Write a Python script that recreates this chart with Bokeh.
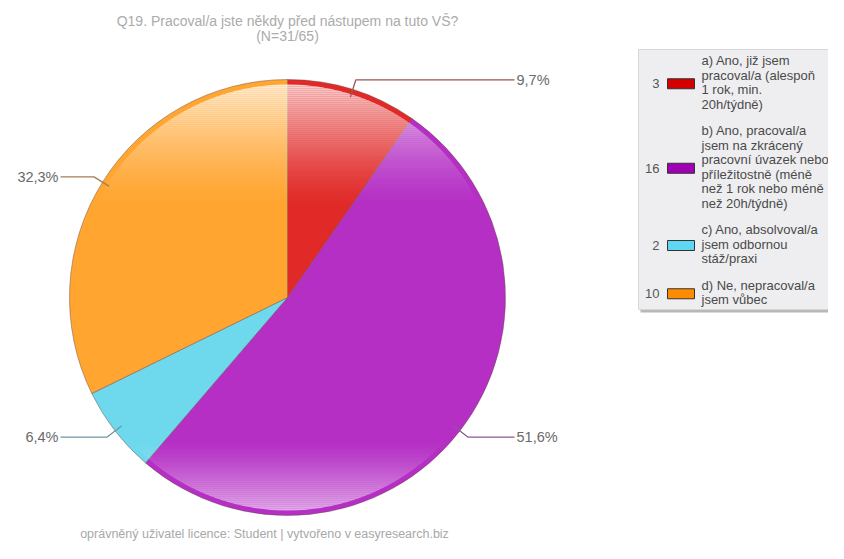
import numpy as np
from bokeh.plotting import figure
from bokeh.models import Range1d
from bokeh.core.properties import value
from bokeh.embed import file_html
from bokeh.resources import INLINE

# ---------------- data ----------------
title_lines = ["Q19. Pracoval/a jste někdy před nástupem na tuto VŠ?", "(N=31/65)"]
footer_text = "oprávněný uživatel licence: Student | vytvořeno v easyresearch.biz"
categories = [
    "a) Ano, již jsem\npracoval/a (alespoň\n1 rok, min.\n20h/týdně)",
    "b) Ano, pracoval/a\njsem na zkrácený\npracovní úvazek nebo\npříležitostně (méně\nnež 1 rok nebo méně\nnež 20h/týdně)",
    "c) Ano, absolvoval/a\njsem odbornou\nstáž/praxi",
    "d) Ne, nepracoval/a\njsem vůbec",
]
counts = [3, 16, 2, 10]
pct_labels = ["9,7%", "51,6%", "6,4%", "32,3%"]
slice_colors = ["#E12A28", "#B52FC5", "#6ED9EC", "#FFA530"]
swatch_colors = ["#D40000", "#A000B4", "#5FD7F2", "#FF8C00"]
leader_colors = ["#9A5552", "#8A5A98", "#6C98A4", "#A58050"]

FONT = value("Liberation Sans")

# ---------------- figure (1 data unit = 1 screen px) ----------------
W, H = 828, 543
def Y(py):
    return H - py

p = figure(width=W, height=H, x_range=Range1d(0, W), y_range=Range1d(0, H),
           output_backend="svg", toolbar_location=None, min_border=0,
           x_axis_location=None, y_axis_location=None)
p.grid.visible = False
p.outline_line_color = None
p.background_fill_color = "white"
p.border_fill_color = "white"

# ---------------- pie ----------------
cx, cy, R, rim = 287, Y(297), 218, 5
total = sum(counts)
cum = np.cumsum([0] + counts)
frac0 = cum[:-1] / total
frac1 = cum[1:] / total
start = np.pi / 2 - 2 * np.pi * frac0
end = np.pi / 2 - 2 * np.pi * frac1
p.wedge(x=cx, y=cy, radius=R, start_angle=start, end_angle=end, direction="clock",
        fill_color=slice_colors, line_color="#6a4a4a", line_alpha=0.45, line_width=1)

# glossy white overlay (top and bottom fade), inside the rim
Ri = R - rim
xs_list, ys_list, alphas = [], [], []
def band(y_lo, y_hi):
    ys = np.linspace(y_lo, y_hi, 8)
    half = np.sqrt(np.clip(Ri ** 2 - (ys - cy) ** 2, 0, None))
    xs = np.concatenate([cx + half, (cx - half)[::-1]])
    yy = np.concatenate([ys, ys[::-1]])
    return list(xs), list(yy)

step = 2.0
for t0 in np.arange(0, 125, step):
    t1 = t0 + step
    tm = (t0 + t1) / 2
    a = 0.78 * (1 - tm / 125) ** 1.5
    xs, ys = band(cy + Ri - t1, cy + Ri - t0)
    xs_list.append(xs); ys_list.append(ys); alphas.append(a)
for b0 in np.arange(0, 70, step):
    b1 = b0 + step
    bm = (b0 + b1) / 2
    a = 0.6 * (1 - bm / 70) ** 1.3
    xs, ys = band(cy - Ri + b0, cy - Ri + b1)
    xs_list.append(xs); ys_list.append(ys); alphas.append(a)
p.patches(xs=xs_list, ys=ys_list, fill_color="white", fill_alpha=alphas, line_alpha=0)

# ---------------- leaders & labels ----------------
mid = 2 * np.pi * (frac0 + frac1) / 2  # clockwise from top
lx, ly, tx, ty, align = [], [], [], [], []
for phi in mid:
    s, c = np.sin(phi), np.cos(phi)
    sx, sy = cx + (R - 8) * s, cy + (R - 8) * c
    ex, ey = cx + (R + 10) * s, cy + (R + 10) * c
    if s > 0:
        hx = cx + R + 9
        tx.append(hx + 2); align.append("left")
    else:
        hx = cx - R - 9
        tx.append(hx - 2); align.append("right")
    lx.append([sx, ex, hx]); ly.append([sy, ey, ey]); ty.append(ey)
p.multi_line(xs=lx, ys=ly, line_color=leader_colors, line_width=1.3)
p.text(x=tx, y=ty, text=pct_labels, text_align=align, text_baseline="middle",
       text_font=FONT, text_font_size="14.5px", text_color="#6a6a6a")

# ---------------- title & footer ----------------
p.text(x=[cx, cx], y=[Y(20), Y(35)], text=title_lines, text_align="center",
       text_baseline="middle", text_font=FONT, text_font_size="14px", text_color="#ababab")
p.text(x=[264], y=[Y(533)], text=[footer_text], text_align="center", text_baseline="middle",
       text_font=FONT, text_font_size="12.5px", text_color="#a8a8a8")

# ---------------- legend ----------------
box_l, box_t, box_r, box_b = 638, 49, 850, 309
p.quad(left=box_l + 2, right=box_r + 2, top=Y(box_t + 3), bottom=Y(box_b + 3),
       fill_color="#9a9a9a", fill_alpha=0.7, line_alpha=0)
p.quad(left=box_l, right=box_r, top=Y(box_t), bottom=Y(box_b),
       fill_color="#EEEEF0", line_color="#d6d6d6", line_width=1)

L, gap = 14.5, 12
y0 = 60.0
line_x, line_y, line_t = [], [], []
sw_top, sw_bot, num_y = [], [], []
for lab in categories:
    lines = lab.split("\n")
    for j, ln in enumerate(lines):
        line_x.append(701); line_y.append(Y(y0 + j * L)); line_t.append(ln)
    center = y0 + (len(lines) - 1) * L / 2 + 1.5
    sw_top.append(Y(center - 5)); sw_bot.append(Y(center + 5)); num_y.append(Y(center))
    y0 += len(lines) * L + gap

p.quad(left=667, right=694, top=sw_top, bottom=sw_bot, fill_color=swatch_colors,
       line_color="#333333", line_width=1)
p.text(x=[659] * len(counts), y=num_y, text=[str(c) for c in counts], text_align="right",
       text_baseline="middle", text_font=FONT, text_font_size="13px", text_color="#555555")
p.text(x=line_x, y=line_y, text=line_t, text_align="left", text_baseline="middle",
       text_font=FONT, text_font_size="13px", text_color="#4a4a4a")

open("out.html", "w").write(file_html(p, INLINE))
